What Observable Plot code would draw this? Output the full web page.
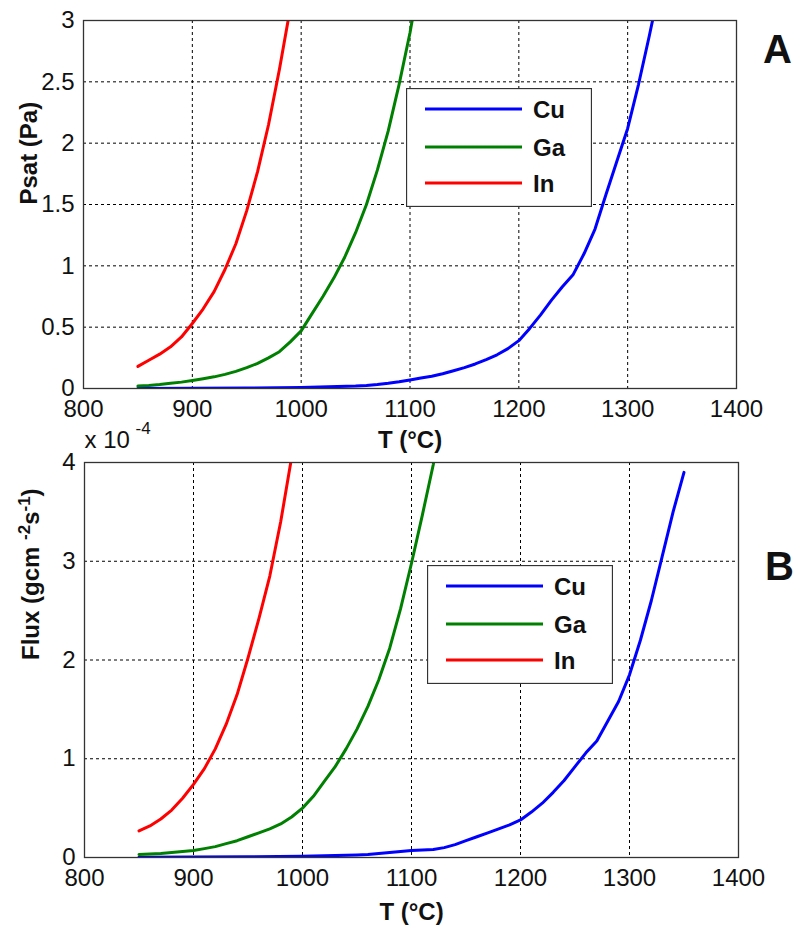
<!DOCTYPE html>
<html>
<head>
<meta charset="utf-8">
<script src="https://cdn.jsdelivr.net/npm/d3@7"></script>
<script src="https://cdn.jsdelivr.net/npm/@observablehq/plot@0.6"></script>
<style>
  body { margin: 0; background: #fff; }
  #wrap { position: relative; width: 795px; height: 930px; font-family: "Liberation Sans", Arial, sans-serif; }
  #chartA, #chartB { position: absolute; left: 0; }
  #chartA { top: 0; }
  #chartB { top: 420px; }
  .legend { position: absolute; }
</style>
</head>
<body>
<div id="wrap">
  <div id="chartB"></div>
  <div id="chartA"></div>
</div>
<script>
// ---------- data ----------
const seriesNames = ["Cu", "Ga", "In"];
const seriesColors = ["#0000ff", "#008000", "#ff0000"];
const xTicks = [800, 900, 1000, 1100, 1200, 1300, 1400];
const yTicksA = [0, 0.5, 1, 1.5, 2, 2.5, 3];
const yTicksB = [0, 1, 2, 3, 4];

// Panel A: saturation pressure (Pa)
const tempCuA = [850, 900, 950, 1000, 1050, 1060, 1070, 1080, 1090, 1100, 1110, 1120, 1130, 1140, 1150, 1160, 1170, 1180, 1190, 1200, 1210, 1220, 1230, 1240, 1250, 1260, 1270, 1280, 1290, 1300, 1310, 1320, 1330];
const psatCu  = [0.001, 0.002, 0.004, 0.008, 0.02, 0.025, 0.033, 0.043, 0.055, 0.07, 0.085, 0.1, 0.12, 0.145, 0.17, 0.2, 0.235, 0.275, 0.325, 0.39, 0.49, 0.6, 0.72, 0.83, 0.93, 1.1, 1.3, 1.58, 1.85, 2.12, 2.48, 2.88, 3.3];
const tempGaA = [850, 860, 870, 880, 890, 900, 910, 920, 930, 940, 950, 960, 970, 980, 990, 1000, 1010, 1020, 1030, 1040, 1050, 1060, 1070, 1080, 1090, 1100, 1110];
const psatGa  = [0.02, 0.025, 0.032, 0.042, 0.052, 0.065, 0.08, 0.095, 0.115, 0.14, 0.17, 0.205, 0.25, 0.3, 0.38, 0.47, 0.61, 0.75, 0.9, 1.07, 1.27, 1.5, 1.78, 2.1, 2.48, 2.9, 3.4];
const tempInA = [850, 860, 870, 880, 890, 900, 910, 920, 930, 940, 950, 960, 970, 980, 990];
const psatIn  = [0.18, 0.23, 0.28, 0.34, 0.42, 0.53, 0.65, 0.79, 0.97, 1.18, 1.45, 1.77, 2.15, 2.6, 3.1];

// Panel B: flux (x 10^-4 g cm^-2 s^-1)
const tempCuB = [850, 900, 950, 1000, 1050, 1060, 1070, 1080, 1090, 1100, 1110, 1120, 1130, 1140, 1150, 1160, 1170, 1180, 1190, 1200, 1210, 1220, 1230, 1240, 1250, 1260, 1270, 1280, 1290, 1300, 1310, 1320, 1330, 1340, 1350];
const fluxCu  = [0.002, 0.004, 0.007, 0.012, 0.025, 0.03, 0.04, 0.05, 0.06, 0.07, 0.075, 0.08, 0.1, 0.13, 0.17, 0.21, 0.25, 0.29, 0.33, 0.38, 0.46, 0.55, 0.66, 0.78, 0.92, 1.06, 1.18, 1.38, 1.58, 1.85, 2.2, 2.6, 3.05, 3.5, 3.9];
const tempGaB = [850, 860, 870, 880, 890, 900, 910, 920, 930, 940, 950, 960, 970, 980, 990, 1000, 1010, 1020, 1030, 1040, 1050, 1060, 1070, 1080, 1090, 1100, 1110, 1120, 1130];
const fluxGa  = [0.03, 0.035, 0.04, 0.05, 0.06, 0.07, 0.09, 0.11, 0.14, 0.17, 0.21, 0.25, 0.29, 0.34, 0.41, 0.5, 0.62, 0.77, 0.92, 1.1, 1.3, 1.53, 1.8, 2.12, 2.52, 2.98, 3.47, 3.98, 4.6];
const tempInB = [850, 860, 870, 880, 890, 900, 910, 920, 930, 940, 950, 960, 970, 980, 990, 1000];
const fluxIn  = [0.27, 0.32, 0.39, 0.48, 0.6, 0.74, 0.9, 1.1, 1.35, 1.65, 2.02, 2.42, 2.85, 3.4, 4.05, 4.8];

// ---------- helpers ----------
const zip = (name, xs, ys) => xs.map((x, i) => ({series: name, T: x, v: ys[i]}));
const dataA = [...zip("Cu", tempCuA, psatCu), ...zip("Ga", tempGaA, psatGa), ...zip("In", tempInA, psatIn)];
const dataB = [...zip("Cu", tempCuB, fluxCu), ...zip("Ga", tempGaB, fluxGa), ...zip("In", tempInB, fluxIn)];

const FONT = "Liberation Sans, Arial, sans-serif";
const gridStyle = {stroke: "#000", strokeOpacity: 1, strokeWidth: 1, strokeDasharray: "3,3"};

function panel({data, yDomain, yTicks, height, marginTop, marginBottom, marginLeft, marginRight, yLabel, yLabelDx, xLabelDy, letter, letterDy, extra}) {
  return Plot.plot({
    width: 795,
    height,
    marginTop, marginBottom, marginLeft, marginRight,
    style: {fontFamily: FONT, fontSize: "24px", background: "transparent", overflow: "visible", color: "#111"},
    x: {domain: [800, 1400]},
    y: {domain: yDomain},
    color: {domain: seriesNames, range: seriesColors},
    marks: [
      Plot.gridX(xTicks.slice(1, -1), gridStyle),
      Plot.gridY(yTicks.slice(1, -1), gridStyle),
      Plot.line(data, {x: "T", y: "v", z: "series", stroke: "series", strokeWidth: 3, clip: true}),
      Plot.frame({stroke: "#333", strokeWidth: 1.3}),
      Plot.axisX({ticks: xTicks, tickSize: 0, tickPadding: 11, label: null, tickFormat: d => String(d), fontSize: 24}),
      Plot.axisY({ticks: yTicks, tickSize: 0, tickPadding: 9, label: null, tickFormat: d => String(d), fontSize: 24}),
      Plot.text(["T (°C)"], {text: d => d, frameAnchor: "bottom", dy: xLabelDy, lineAnchor: "middle", fontWeight: "bold", fontSize: 24}),
      Plot.text([yLabel], {text: d => d, frameAnchor: "left", rotate: -90, dx: yLabelDx, lineAnchor: "middle", fontWeight: "bold", fontSize: 24, className: "ylab"}),
      Plot.text([letter], {text: d => d, frameAnchor: "top-right", dx: 41, dy: letterDy, textAnchor: "middle", lineAnchor: "middle", fontWeight: "bold", fontSize: 40}),
      ...(extra || [])
    ]
  });
}

const chartA = panel({
  data: dataA, yDomain: [0, 3], yTicks: yTicksA, height: 460,
  marginTop: 20, marginBottom: 72, marginLeft: 83, marginRight: 59,
  yLabel: "Psat (Pa)", yLabelDx: -54, xLabelDy: 52, letter: "A", letterDy: 30
});
document.getElementById("chartA").appendChild(chartA);

const chartB = panel({
  data: dataB, yDomain: [0, 4], yTicks: yTicksB, height: 510,
  marginTop: 42, marginBottom: 73, marginLeft: 84, marginRight: 57,
  yLabel: "Flux (gcm-2s-1)", yLabelDx: -53, xLabelDy: 55, letter: "B", letterDy: 105,
  extra: [
    Plot.text(["x 10"], {text: d => d, frameAnchor: "top-left", dx: 0, dy: -15, textAnchor: "start", lineAnchor: "bottom", fontSize: 24}),
    Plot.text(["-4"], {text: d => d, frameAnchor: "top-left", dx: 51, dy: -29, textAnchor: "start", lineAnchor: "bottom", fontSize: 17})
  ]
});
document.getElementById("chartB").appendChild(chartB);

// superscripts in the flux label
d3.select(chartB).selectAll(".ylab text").each(function () {
  const t = d3.select(this);
  t.text(null);
  t.append("tspan").text("Flux (gcm ");
  t.append("tspan").attr("font-size", 17).attr("dy", -9).text("-2");
  t.append("tspan").attr("dy", 9).text("s");
  t.append("tspan").attr("font-size", 17).attr("dy", -9).text("-1");
  t.append("tspan").attr("dy", 9).text(")");
});

// ---------- legends (inside each panel) ----------
function legend(left, top) {
  const w = 186, h = 119;
  const svg = d3.select("#wrap").append("svg")
    .attr("class", "legend")
    .attr("width", w).attr("height", h)
    .style("left", left + "px").style("top", top + "px");
  svg.append("rect").attr("x", 0.5).attr("y", 0.5).attr("width", w - 1).attr("height", h - 1)
    .attr("fill", "#fff").attr("stroke", "#333").attr("stroke-width", 1.3);
  const rows = [21, 59, 95];
  seriesNames.forEach((name, i) => {
    svg.append("line").attr("x1", 19).attr("x2", 116).attr("y1", rows[i]).attr("y2", rows[i])
      .attr("stroke", seriesColors[i]).attr("stroke-width", 3);
    svg.append("text").attr("x", 127).attr("y", rows[i]).attr("dy", "0.36em")
      .attr("font-family", FONT).attr("font-size", 24).attr("font-weight", "bold").attr("fill", "#111")
      .text(name);
  });
}
legend(406, 88);
legend(427, 565);
</script>
</body>
</html>
